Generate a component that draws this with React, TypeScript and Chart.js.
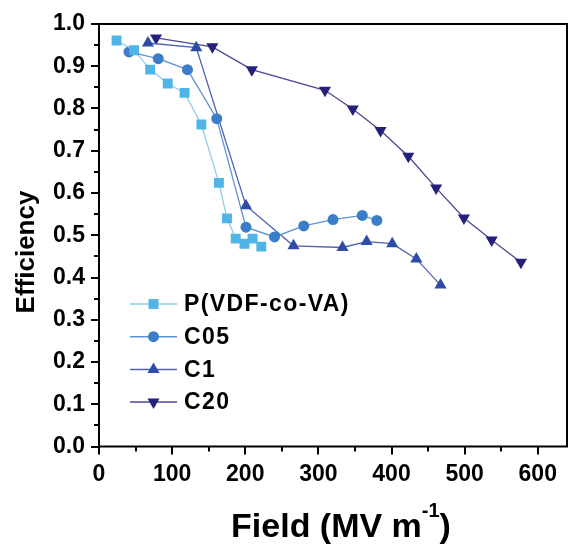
import React, { useEffect, useRef } from 'react';
import { Chart, registerables } from 'chart.js';

Chart.register(...registerables);

const seriesNames = ['P(VDF-co-VA)', 'C05', 'C1', 'C20'];

const fieldP = [24, 48, 70, 94, 117, 140, 164, 175, 187, 199, 210, 222];
const effP = [0.961, 0.938, 0.892, 0.859, 0.837, 0.762, 0.624, 0.54, 0.492, 0.48, 0.492, 0.473];

const fieldC05 = [41, 81, 121, 161, 201, 240, 280, 320, 360, 380];
const effC05 = [0.934, 0.918, 0.892, 0.776, 0.519, 0.496, 0.522, 0.537, 0.547, 0.535];

const fieldC1 = [67, 133, 201, 266, 333, 366, 401, 434, 467];
const effC1 = [0.955, 0.944, 0.57, 0.475, 0.471, 0.485, 0.48, 0.444, 0.382];

const fieldC20 = [78, 155, 209, 309, 347, 385, 423, 461, 499, 537, 577];
const effC20 = [0.967, 0.946, 0.892, 0.843, 0.799, 0.748, 0.687, 0.612, 0.541, 0.489, 0.436];

const xTickLabels = ['0', '100', '200', '300', '400', '500', '600'];
const yTickLabels = ['0.0', '0.1', '0.2', '0.3', '0.4', '0.5', '0.6', '0.7', '0.8', '0.9', '1.0'];

const markerColors = ['#4fb4e6', '#3b7dc9', '#2f4ba8', '#25207a'];
const lineColors = ['#8ccdee', '#5d92d3', '#4f61b2', '#4a4898'];
const markerStyles = ['rect', 'circle', 'triangle', 'triangle'];
const markerRotations = [0, 0, 0, 180];
const markerRadii = [7, 5.5, 7, 7];

const FONT = '"Liberation Sans", Arial, sans-serif';

function drawMarker(ctx: CanvasRenderingContext2D, style: string, rot: number, r: number, x: number, y: number, color: string) {
  ctx.save();
  ctx.fillStyle = color;
  ctx.beginPath();
  if (style === 'rect') {
    const s = Math.SQRT1_2 * r;
    ctx.rect(x - s, y - s, 2 * s, 2 * s);
  } else if (style === 'circle') {
    ctx.arc(x, y, r, 0, Math.PI * 2);
  } else {
    let a = (rot * Math.PI) / 180;
    ctx.moveTo(x + Math.sin(a) * r, y - Math.cos(a) * r);
    a += (2 * Math.PI) / 3;
    ctx.lineTo(x + Math.sin(a) * r, y - Math.cos(a) * r);
    a += (2 * Math.PI) / 3;
    ctx.lineTo(x + Math.sin(a) * r, y - Math.cos(a) * r);
    ctx.closePath();
  }
  ctx.fill();
  ctx.restore();
}

const decorPlugin = {
  id: 'decor',
  afterDraw(chart: any) {
    const ctx: any = chart.ctx;
    const { left, right, top, bottom } = chart.chartArea;
    const xs = chart.scales.x;
    const ys = chart.scales.y;
    ctx.save();
    // frame
    ctx.strokeStyle = '#000';
    ctx.lineWidth = 2;
    ctx.strokeRect(left, top, right - left, bottom - top);
    // x ticks
    ctx.lineWidth = 2;
    for (let v = 0; v <= 600; v += 50) {
      const px = Math.round(xs.getPixelForValue(v));
      const len = v % 100 === 0 ? 8 : 5;
      ctx.beginPath();
      ctx.moveTo(px, bottom);
      ctx.lineTo(px, bottom + len);
      ctx.stroke();
    }
    for (let i = 0; i <= 20; i++) {
      const py = Math.round(ys.getPixelForValue(i * 0.05));
      const len = i % 2 === 0 ? 8 : 5;
      ctx.beginPath();
      ctx.moveTo(left, py);
      ctx.lineTo(left - len, py);
      ctx.stroke();
    }
    // legend
    const rowY0 = 304;
    const rowStep = 32.7;
    seriesNames.forEach((name, i) => {
      const y = rowY0 + i * rowStep;
      ctx.strokeStyle = lineColors[i];
      ctx.lineWidth = 1.5;
      ctx.beginPath();
      ctx.moveTo(130, y);
      ctx.lineTo(177, y);
      ctx.stroke();
      drawMarker(ctx, markerStyles[i], markerRotations[i], markerRadii[i], 153.5, y, markerColors[i]);
      ctx.fillStyle = '#000';
      ctx.font = `bold 23px ${FONT}`;
      ctx.letterSpacing = '1.4px';
      ctx.textAlign = 'left';
      ctx.textBaseline = 'middle';
      ctx.fillText(name, 184, y + 1);
      ctx.letterSpacing = '0px';
    });
    // x title
    const main1 = 'Field (MV m';
    const sup = '-1';
    const main2 = ')';
    ctx.font = `bold 34px ${FONT}`;
    const w1 = ctx.measureText(main1).width;
    const w3 = ctx.measureText(main2).width;
    ctx.font = `bold 20px ${FONT}`;
    const w2 = ctx.measureText(sup).width;
    const total = w1 + w2 + w3;
    const cx = 341;
    let x0 = cx - total / 2;
    ctx.fillStyle = '#000';
    ctx.textAlign = 'left';
    ctx.textBaseline = 'alphabetic';
    ctx.font = `bold 34px ${FONT}`;
    ctx.fillText(main1, x0, 537);
    ctx.font = `bold 20px ${FONT}`;
    ctx.fillText(sup, x0 + w1, 517);
    ctx.font = `bold 34px ${FONT}`;
    ctx.fillText(main2, x0 + w1 + w2, 537);
    // y title
    ctx.save();
    ctx.translate(27, 252);
    ctx.rotate(-Math.PI / 2);
    ctx.font = `bold 26px ${FONT}`;
    ctx.textAlign = 'center';
    ctx.textBaseline = 'middle';
    ctx.fillText('Efficiency', 0, 0);
    ctx.restore();
    ctx.restore();
  },
};

function makeData(xs: number[], ys: number[]) {
  return xs.map((x, i) => ({ x, y: ys[i] }));
}

export default function App() {
  const ref = useRef<HTMLCanvasElement | null>(null);
  useEffect(() => {
    if (!ref.current) return;
    const allX = [fieldP, fieldC05, fieldC1, fieldC20];
    const allY = [effP, effC05, effC1, effC20];
    const chart = new Chart(ref.current, {
      type: 'line',
      data: {
        datasets: seriesNames.map((name, i) => ({
          label: name,
          data: makeData(allX[i], allY[i]),
          borderColor: lineColors[i],
          backgroundColor: markerColors[i],
          borderWidth: 1.3,
          pointStyle: markerStyles[i] as any,
          pointRotation: markerRotations[i],
          pointRadius: markerRadii[i],
          pointBorderWidth: 0,
          pointBackgroundColor: markerColors[i],
          pointBorderColor: markerColors[i],
          tension: 0,
          fill: false,
        })),
      },
      options: {
        responsive: false,
        animation: false,
        devicePixelRatio: 1,
        layout: { padding: { top: 24, right: 1, left: 0, bottom: 0 } },
        plugins: { legend: { display: false }, tooltip: { enabled: false } },
        scales: {
          x: {
            type: 'linear',
            min: 0,
            max: 640,
            afterFit: (s: any) => { s.height = 97.5; },
            afterBuildTicks: (s: any) => {
              s.ticks = xTickLabels.map((t) => ({ value: Number(t) }));
            },
            ticks: {
              autoSkip: false,
              maxRotation: 0,
              padding: 6,
              color: '#000',
              font: { family: FONT, size: 23, weight: 'bold' },
              callback: (v: any) => xTickLabels[xTickLabels.indexOf(String(v))] ?? '',
            },
            grid: { drawOnChartArea: false, drawTicks: true, tickLength: 8, tickColor: 'rgba(0,0,0,0)' },
            border: { display: false },
          },
          y: {
            type: 'linear',
            min: 0,
            max: 1,
            afterFit: (s: any) => { s.width = 99; },
            afterBuildTicks: (s: any) => {
              s.ticks = yTickLabels.map((t) => ({ value: Number(t) }));
            },
            ticks: {
              autoSkip: false,
              padding: 6,
              color: '#000',
              font: { family: FONT, size: 23, weight: 'bold' },
              callback: (v: any) => yTickLabels[Math.round(Number(v) * 10)] ?? '',
            },
            grid: { drawOnChartArea: false, drawTicks: true, tickLength: 8, tickColor: 'rgba(0,0,0,0)' },
            border: { display: false },
          },
        },
      },
      plugins: [decorPlugin],
    });
    return () => chart.destroy();
  }, []);
  return (
    <div style={{ position: 'absolute', left: 0, top: 0, width: 574, height: 544, background: '#fff' }}>
      <canvas ref={ref} width={574} height={544} style={{ width: 574, height: 544, display: 'block' }} />
    </div>
  );
}
